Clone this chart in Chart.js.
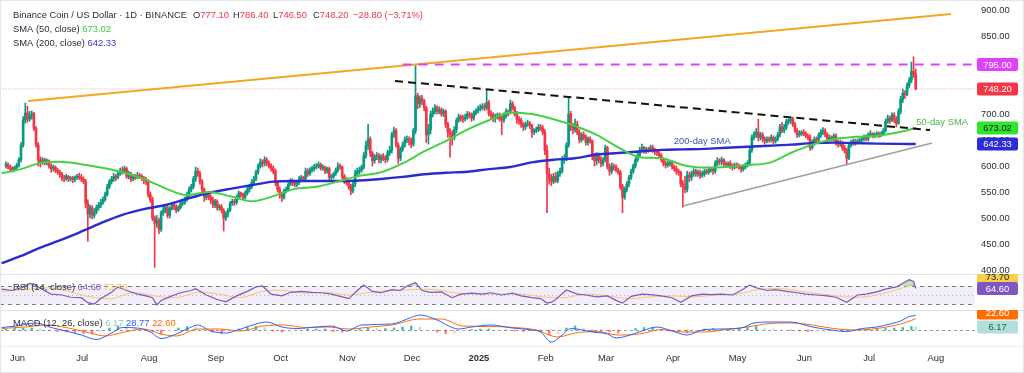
<!DOCTYPE html>
<html>
<head>
<meta charset="utf-8">
<title>Binance Coin / US Dollar · 1D · BINANCE</title>
<script src="https://cdn.jsdelivr.net/npm/chart.js@4.4.1/dist/chart.umd.min.js"></script>
<style>
  html, body { margin:0; padding:0; background:#ffffff; }
  #wrap { position:relative; width:1024px; height:373px; overflow:hidden; background:#ffffff; }
  #wrap canvas { position:absolute; left:0; }
  #frame { position:absolute; left:0; top:0; width:1024px; height:373px; box-sizing:border-box; border:1px solid #e4e6eb; pointer-events:none; }
</style>
</head>
<body>
<div id="wrap">
  <canvas id="mainChart" style="top:0;width:1024px;height:274px" width="1024" height="274"></canvas>
  <canvas id="rsiChart" style="top:274px;width:1024px;height:36px" width="1024" height="36"></canvas>
  <canvas id="macdChart" style="top:310px;width:1024px;height:63px" width="1024" height="63"></canvas>
  <div id="frame"></div>
</div>
<script>
// ================= DATA (day 0 = 1 Jun 2024, daily candles) =================
const firstDay = -4;      // first candle: 28 May 2024
const firstOpen = 600;    // open of the first candle (later opens = prior close, 24/7 market)

const closes = [
  603,598,595,593,
  597,601,612,640,688,702,690,697,700,672,640,612,608,612,606,610,600,595,598,592,588,584,578,576,580,575,577,574,578,580,
  578,575,570,528,508,520,505,512,520,525,530,535,545,560,570,575,580,578,585,590,588,595,580,585,575,580,578,582,580,577,572,
  570,545,535,500,490,495,478,510,515,520,505,518,525,522,515,520,528,530,535,545,555,560,575,590,585,570,555,540,545,540,535,
  525,532,520,522,515,500,508,515,528,532,530,540,548,545,540,548,555,560,568,575,588,600,608,605,612,606,600,596,590,568,
  555,545,540,552,555,565,570,568,565,568,575,578,575,590,585,592,595,598,600,603,596,598,590,595,578,580,585,592,600,598,580,
  572,568,560,552,565,585,590,592,598,620,640,652,625,610,618,620,612,618,615,612,625,630,660,668,640,615,632,640,650,652,
  648,642,668,735,720,730,725,712,660,670,700,705,712,705,708,700,705,680,665,660,655,670,688,695,692,690,694,700,698,692,702,
  706,710,712,715,712,722,700,698,692,695,698,690,688,697,705,702,720,712,700,690,688,680,675,680,682,678,665,668,670,675,672,
  665,630,585,575,570,580,572,585,590,612,615,640,700,675,670,680,665,650,660,655,645,652,648,618,610,620,612,605,
  612,635,598,590,600,598,592,588,560,540,555,565,578,590,600,612,620,630,635,628,632,630,636,630,628,625,620,612,605,602,605,
  605,598,595,590,588,565,560,555,582,578,585,590,585,588,582,585,590,588,592,594,590,605,610,608,612,605,602,605,600,598,
  602,600,598,594,598,602,605,630,655,660,665,655,660,652,648,652,650,655,648,652,660,675,668,675,685,688,690,680,668,660,662,
  665,662,658,655,635,645,652,650,660,665,668,660,652,655,652,658,645,642,645,635,630,615,640,645,648,645,648,650,652,656,
  652,660,662,658,660,662,660,662,668,685,692,688,698,690,682,705,728,740,738,755,765,782,777.1,748.2
];
const highs = [
  608,606,602,599,
  600,605,616,645,695,721,715,705,706,703,676,645,618,616,615,614,612,604,602,600,595,592,588,582,584,582,580,580,581,584,
  586,584,579,574,535,525,524,518,525,530,536,540,550,565,574,580,586,584,590,596,598,600,598,590,588,584,584,588,586,584,580,
  578,574,550,540,504,505,500,514,522,526,524,522,530,530,526,524,532,535,540,550,560,565,580,598,596,590,574,558,550,550,545,
  540,536,535,526,526,518,512,518,532,536,536,544,552,550,548,552,560,565,574,580,592,604,614,612,618,616,610,604,600,594,
  572,560,550,556,560,568,576,575,572,572,580,582,580,596,595,597,600,603,605,608,606,602,600,598,598,584,588,596,606,604,600,
  584,578,572,565,570,592,596,598,602,626,648,680,656,628,622,626,624,622,624,620,630,638,665,675,672,645,636,646,656,658,
  656,654,672,794,740,735,736,728,715,680,706,712,718,716,714,712,710,708,684,672,668,676,692,700,698,698,700,705,704,702,706,
  710,715,718,720,720,746,726,706,702,700,702,702,696,702,710,708,727,724,715,705,695,692,684,685,688,686,680,672,675,680,680,
  678,670,640,596,584,586,588,590,596,618,622,645,733,705,682,690,686,670,664,666,660,656,656,650,624,626,625,618,
  616,640,638,604,606,604,602,596,592,565,560,570,582,594,604,616,625,636,642,638,636,636,640,640,634,632,628,624,616,610,610,
  610,610,602,600,594,590,572,580,590,588,590,595,594,592,592,590,594,594,596,598,598,610,616,614,617,614,608,608,610,604,
  606,606,604,600,602,606,610,636,660,666,672,690,665,664,656,656,656,660,658,656,665,680,684,680,690,694,694,694,684,672,668,
  668,670,666,662,660,650,656,656,664,670,674,672,664,660,658,662,662,650,650,648,640,634,645,650,652,652,652,654,656,660,
  660,664,668,664,664,666,665,666,672,690,698,696,702,702,695,710,734,748,745,760,770,800,810,786.4
];
const lows = [
  596,594,590,588,
  590,594,598,608,636,682,684,686,690,668,636,600,598,603,602,602,596,588,590,587,584,578,572,570,572,570,571,568,570,574,
  574,570,566,520,455,500,498,500,508,515,520,526,532,542,556,565,570,572,575,582,584,586,576,575,570,572,574,575,576,572,566,
  564,540,530,495,405,482,470,474,505,510,500,500,515,516,510,512,517,524,526,532,540,550,556,570,580,565,550,532,535,535,528,
  520,520,515,515,510,475,495,502,512,524,524,526,536,540,535,536,544,550,556,565,572,584,596,598,600,600,596,590,585,562,
  550,538,532,536,548,552,562,562,560,560,564,572,570,572,580,582,588,590,594,596,592,592,585,586,572,574,576,582,588,594,575,
  566,564,555,545,548,560,580,584,588,594,615,632,618,600,605,612,606,606,610,606,608,620,625,655,636,605,610,628,636,645,
  640,635,638,662,710,712,718,706,645,642,662,694,700,700,700,696,695,674,655,617,640,650,664,684,686,684,686,690,692,686,688,
  698,702,706,708,706,708,696,690,685,684,690,686,660,684,692,696,700,708,696,682,680,674,668,670,676,672,655,660,664,666,668,
  660,622,510,565,562,566,568,568,580,586,605,610,636,668,662,665,660,644,646,650,640,640,644,612,600,602,606,598,
  600,608,594,582,585,592,588,584,555,510,536,550,560,574,586,596,608,616,626,624,624,626,628,626,622,620,615,608,600,596,598,
  600,594,590,584,582,560,521,548,550,570,572,580,580,580,576,578,580,584,584,588,584,586,600,602,602,600,598,598,595,592,
  594,596,594,588,590,594,598,602,626,650,655,648,650,646,642,645,646,646,642,644,648,656,664,664,670,680,682,676,664,655,656,
  658,658,654,650,630,632,640,645,646,655,660,656,645,648,648,648,640,636,638,630,625,602,612,636,640,640,642,644,646,648,
  648,648,656,654,654,656,655,656,660,665,682,682,685,684,675,680,700,722,730,735,750,760,770,746.5
];

// Moving averages
const smaDays = [-6,3,12,21,30,40,50,60,70,80, 90,100,110,120,130,140,150,160,170,180, 190,200,210,220,230,240,250,260,270,280, 290,300,310,320,330,340,350,360,370,380, 390,400,410,418];
const sma50 = [586,594,606,608,604,597,588,575,557,544, 550,542,532,542,556,560,570,581,588,605, 628,648,670,688,703,700,690,677,660,636, 617,615,602,597,598,602,606,625,641,652, 656,658,665,673.02];
const sma200 = [413,427,443,457,472,490,506,517,525,537, 548,556,563,570,571,571,571,572,575,579, 584,587,589,594,598,607,612,615,622,625, 628,631,632,633,635,637,639,641,644,645, 644,643,642.5,642.33];

// RSI (14) and its moving average
const rsiDays = [-6,-1,3,7,9,13,17,22,26,31, 34,37,40,45,48,52,57,61,64,66, 68,73,77,82,84,89,94,98,103,108, 112,115,119,124,128,133,138,142,147,152, 155,159,162,166,170,175,179,182,186,189, 193,198,203,207,212,217,221,226,231,235, 240,244,247,249,251,256,261,265,270,275, 279,282,286,291,295,300,305,309,314,319, 323,328,333,337,341,344,349,353,358,363, 367,372,377,381,386,391,395,400,404,409, 412,415,417,418];
const rsiVals = [63,60,66,76,74,62,52,50,45,44, 33,30,42,56,68,60,52,48,44,28, 38,48,55,60,64,50,40,35,48,58, 68,70,52,48,56,58,56,55,52,46, 42,60,72,58,55,62,60,70,78,60, 56,57,44,52,54,52,55,50,54,48, 44,42,32,34,40,61,52,50,46,48, 38,32,47,52,51,48,44,34,48,52, 51,52,50,60,72,66,60,62,58,55, 52,50,48,45,34,50,52,57,63,68, 76,84,80,64.6];
const rsiMaDays = [-6,5,15,25,35,45,55,65,75,85, 95,105,115,125,135,145,155,165,175,185, 195,205,215,225,235,245,255,265,275,285, 295,305,315,325,335,345,355,365,375,385, 395,405,412,418];
const rsiMaVals = [58,62,66,58,46,42,55,48,44,56, 52,44,58,60,54,56,50,56,60,62, 62,54,52,52,52,46,44,52,48,42, 46,48,46,50,52,62,64,58,52,46, 46,56,66,73.7];

// MACD (12, 26, close)
const macdDays = [-6,1,10,17,24,31,38,45,50,57, 63,68,74,80,85,91,98,105,112,117, 124,131,140,147,154,161,175,184,188,196, 203,206,212,221,231,240,244,249,254,258, 268,275,279,284,291,298,305,312,319,328, 337,343,351,360,370,379,386,393,400,407, 411,415,418];
const macdVals = [5,8,14,5,-2,-10,-19,-6,5,4, -4,-17,-10,2,10,-2,-6,2,12,16, 6,3,6,8,-2,10,12,25,30,20, 5,2,6,10,4,0,-4,-24,-10,3, -4,-8,-16,-12,-2,6,-2,-10,0,2, 4,14,16,16,6,0,-3,3,6,13, 18,27,28.77];
const signalDays = [-6,5,15,25,35,42,50,60,68,75, 85,95,105,115,125,135,145,155,165,175, 188,198,208,220,232,242,252,260,270,280, 290,300,310,320,330,340,350,360,370,380, 390,400,408,414,418];
const signalVals = [3,6,10,4,-6,-12,-5,2,-8,-12, 2,2,-2,8,10,5,6,2,6,10, 22,22,8,7,5,0,-14,-6,-3,-10, -8,1,-4,-4,1,6,13,14,10,3, 0,3,9,16,22.6];
const histDays = [-4,0,4,8,12,16,20,24,28,32, 36,40,44,48,52,56,60,64,68,72, 76,80,84,88,92,96,100,104,108,112, 116,120,124,128,132,136,140,144,148,152, 156,160,164,168,172,176,180,184,188,192, 196,200,204,208,212,216,220,224,228,232, 236,240,244,248,252,256,260,264,268,272, 276,280,284,288,292,296,300,304,308,312, 316,320,324,328,332,336,340,344,348,352, 356,360,364,368,372,376,380,384,388,392, 396,400,404,408,412,416,418];
const histVals = [2,3,4,4,2,-1,-3,-4,-5,-7, -8,-4,4,8,6,3,0,-4,-8,-2, 4,7,6,2,-4,-7,-4,2,6,7, 5,-2,-4,-4,-1,2,2,2,-3,-4, -1,3,4,3,3,4,6,8,6,0, -4,-7,-6,-3,1,2,2,0,-1,-2, -3,-3,-4,-10,-8,4,8,3,-2,-3, -4,-6,-2,3,5,5,2,-2,-4,-6, -1,2,3,2,2,3,6,7,4,2, 0,-1,-2,-3,-3,-3,-2,-3,-2,1, 2,3,3,4,5,7,6.17];

// Drawn lines (anchor points as [day, price])
const resistanceLine = [[6.3, 725], [434.4, 892.3]];
const fallingTrend   = [[176.5, 763.5], [424.6, 669]];
const risingSupport  = [[310, 523], [425.6, 644.2]];
const levelLine      = [[180, 795], [446, 795]];
const lastPriceLine  = [[-7, 748.2], [446, 748.2]];

// Axis labels
const monthTickDays   = [0,30,61,92,122,153,183,214,245,273,304,334,365,395,426];
const monthTickLabels = ['Jun','Jul','Aug','Sep','Oct','Nov','Dec','2025','Feb','Mar','Apr','May','Jun','Jul','Aug'];
const priceTicks = [400,450,500,550,600,650,700,750,800,850,900];

// ================= CHECKS =================
function checkLen(name, a, b) { if (a.length !== b.length) throw new Error(name + ' length mismatch ' + a.length + ' vs ' + b.length); }
checkLen('highs', highs, closes); checkLen('lows', lows, closes);
checkLen('sma50', sma50, smaDays); checkLen('sma200', sma200, smaDays);
checkLen('rsi', rsiVals, rsiDays); checkLen('rsiMa', rsiMaVals, rsiMaDays);
checkLen('macd', macdVals, macdDays); checkLen('signal', signalVals, signalDays); checkLen('hist', histVals, histDays);
if (closes.length !== 423) throw new Error('closes length ' + closes.length);

// ================= SETUP =================
const FONT = '"Liberation Sans", Arial, sans-serif';
const FS = 9.4;
const TXT = '#2a2e39';
const X_MIN = -6.73, X_MAX = 445.5;
const UP = '#089981', DOWN = '#f23645';
Chart.defaults.font.family = FONT;

const days = closes.map((_, i) => firstDay + i);
const opens = closes.map((c, i) => i === 0 ? firstOpen : closes[i - 1]);
const candleColors = closes.map((c, i) => c >= opens[i] ? UP : DOWN);
const pts = (xs, ys) => xs.map((d, i) => ({ x: d, y: ys[i] }));
const seg2 = (p) => p.map(([d, v]) => ({ x: d, y: v }));

const xScale = { type: 'linear', min: X_MIN, max: X_MAX, display: false, offset: false };
const common = {
  responsive: false, animation: false, devicePixelRatio: 1, events: [],
  plugins: { legend: { display: false }, tooltip: { enabled: false } }
};

function drawParts(ctx, x, y, parts) {
  for (const [t, c] of parts) { ctx.fillStyle = c; ctx.fillText(t, x, y); x += ctx.measureText(t).width; }
}
function tag(ctx, yc, text, bg, fg) {
  ctx.save();
  ctx.font = FS + 'px ' + FONT;
  const x0 = 977, w = 41, h = 13;
  ctx.fillStyle = bg;
  ctx.beginPath();
  if (ctx.roundRect) ctx.roundRect(x0, yc - h / 2, w, h, 2); else ctx.rect(x0, yc - h / 2, w, h);
  ctx.fill();
  ctx.fillStyle = fg; ctx.textAlign = 'center'; ctx.textBaseline = 'middle';
  ctx.fillText(text, x0 + w / 2, yc + 0.5);
  ctx.restore();
}
function hline(ctx, y, x1, x2, color) {
  ctx.save(); ctx.strokeStyle = color; ctx.lineWidth = 1; ctx.setLineDash([]);
  ctx.beginPath(); ctx.moveTo(x1, y); ctx.lineTo(x2, y); ctx.stroke(); ctx.restore();
}

// ================= MAIN PRICE CHART =================
const mainOverlay = {
  id: 'mainOverlay',
  afterDraw(chart) {
    const { ctx, chartArea: a, scales: { x, y } } = chart;
    ctx.save();
    ctx.font = FS + 'px ' + FONT; ctx.textBaseline = 'middle'; ctx.textAlign = 'left';
    // price axis labels
    ctx.fillStyle = TXT;
    priceTicks.forEach(v => ctx.fillText(v.toFixed(2), a.right + 6, y.getPixelForValue(v)));
    // header legend
    drawParts(ctx, 13, 15.5, [['Binance Coin / US Dollar · 1D · BINANCE', TXT]]);
    drawParts(ctx, 193, 15.5, [['O', TXT], ['777.10', DOWN]]);
    drawParts(ctx, 233, 15.5, [['H', TXT], ['786.40', DOWN]]);
    drawParts(ctx, 273, 15.5, [['L', TXT], ['746.50', DOWN]]);
    drawParts(ctx, 313, 15.5, [['C', TXT], ['748.20', DOWN]]);
    drawParts(ctx, 353, 15.5, [['−28.80 (−3.71%)', DOWN]]);
    drawParts(ctx, 13, 29.5, [['SMA (50, close)', TXT], [' 673.02', '#43c443']]);
    drawParts(ctx, 13, 43.5, [['SMA (200, close)', TXT], [' 642.33', '#3a3ad6']]);
    ctx.fillStyle = '#4caf50';
    ctx.fillText('50-day SMA', x.getPixelForValue(418.3), y.getPixelForValue(683));
    ctx.textAlign = 'center'; ctx.fillStyle = '#3f51b5';
    ctx.fillText('200-day SMA', x.getPixelForValue(319), y.getPixelForValue(648));
    ctx.restore();
    tag(ctx, y.getPixelForValue(levelLine[0][1]), levelLine[0][1].toFixed(2), '#e040fb', '#ffffff');
    tag(ctx, y.getPixelForValue(closes[closes.length - 1]), closes[closes.length - 1].toFixed(2), '#f23645', '#ffffff');
    tag(ctx, y.getPixelForValue(sma50[sma50.length - 1]), sma50[sma50.length - 1].toFixed(2), '#2ee62e', '#131722');
    tag(ctx, y.getPixelForValue(sma200[sma200.length - 1]), sma200[sma200.length - 1].toFixed(2), '#2b2bd9', '#ffffff');
  }
};

new Chart(document.getElementById('mainChart'), {
  type: 'bar',
  data: {
    datasets: [
      { type: 'bar', label: 'wicks', data: days.map((d, i) => ({ x: d, y: [lows[i], highs[i]] })),
        backgroundColor: candleColors, barThickness: 1, grouped: false, order: 10 },
      { type: 'bar', label: 'bodies', data: days.map((d, i) => ({ x: d, y: [opens[i], closes[i]] })),
        backgroundColor: candleColors, barThickness: 2, minBarLength: 1, grouped: false, order: 9 },
      { type: 'line', label: 'SMA 200', data: pts(smaDays, sma200), borderColor: '#2b2bd0', borderWidth: 2.4,
        pointRadius: 0, tension: 0.4, cubicInterpolationMode: 'monotone', fill: false, order: 5 },
      { type: 'line', label: 'SMA 50', data: pts(smaDays, sma50), borderColor: '#45d045', borderWidth: 2,
        pointRadius: 0, tension: 0.4, cubicInterpolationMode: 'monotone', fill: false, order: 4 },
      { type: 'line', label: 'last', data: seg2(lastPriceLine), borderColor: 'rgba(242,54,69,0.55)', borderWidth: 1,
        borderDash: [1, 2], pointRadius: 0, fill: false, order: 3 },
      { type: 'line', label: 'resistance', data: seg2(resistanceLine), borderColor: '#f5a623', borderWidth: 2,
        pointRadius: 0, fill: false, order: 2 },
      { type: 'line', label: 'falling', data: seg2(fallingTrend), borderColor: '#111111', borderWidth: 2,
        borderDash: [8, 5], pointRadius: 0, fill: false, order: 2 },
      { type: 'line', label: 'support', data: seg2(risingSupport), borderColor: '#a0a0a0', borderWidth: 1.6,
        pointRadius: 0, fill: false, order: 2 },
      { type: 'line', label: 'level', data: seg2(levelLine), borderColor: '#e040fb', borderWidth: 2,
        borderDash: [9, 7], pointRadius: 0, fill: false, order: 1 }
    ]
  },
  options: Object.assign({}, common, {
    layout: { padding: { left: 0, top: 0, bottom: 0, right: 49 } },
    scales: {
      x: xScale,
      y: { display: false, min: 392.3, max: 919.2 }
    }
  }),
  plugins: [mainOverlay]
});

// ================= RSI =================
const rsiOverlay = {
  id: 'rsiOverlay',
  beforeDatasetsDraw(chart) {
    const { ctx, chartArea: a, scales: { y } } = chart;
    const y70 = Math.round(y.getPixelForValue(70)) + 0.5, y30 = Math.round(y.getPixelForValue(30)) + 0.5, y50 = Math.round(y.getPixelForValue(50)) + 0.5;
    ctx.save();
    ctx.fillStyle = 'rgba(126,87,194,0.10)';
    ctx.fillRect(a.left, y70, a.right - a.left, y30 - y70);
    ctx.strokeStyle = '#787b86'; ctx.lineWidth = 1; ctx.setLineDash([4, 4]);
    for (const yy of [y70, y30]) { ctx.beginPath(); ctx.moveTo(a.left, yy); ctx.lineTo(a.right, yy); ctx.stroke(); }
    ctx.strokeStyle = 'rgba(120,123,134,0.45)'; ctx.setLineDash([1, 3]);
    ctx.beginPath(); ctx.moveTo(a.left, y50); ctx.lineTo(a.right, y50); ctx.stroke();
    ctx.restore();
  },
  afterDraw(chart) {
    const { ctx, scales: { y } } = chart;
    hline(ctx, 0.5, 0, 1024, '#e0e3eb');
    ctx.save();
    ctx.font = FS + 'px ' + FONT; ctx.textBaseline = 'middle'; ctx.textAlign = 'left';
    drawParts(ctx, 13, 13, [['RSI (14, close)', TXT], [' 64.60', '#7e57c2'], [' 73.70', '#f0c040']]);
    ctx.restore();
    tag(ctx, 3, rsiMaVals[rsiMaVals.length - 1].toFixed(2), '#f7cf4a', '#131722');
    tag(ctx, y.getPixelForValue(rsiVals[rsiVals.length - 1]), rsiVals[rsiVals.length - 1].toFixed(2), '#7e57c2', '#ffffff');
  }
};

new Chart(document.getElementById('rsiChart'), {
  type: 'line',
  data: {
    datasets: [
      { label: 'RSI MA', data: pts(rsiMaDays, rsiMaVals), borderColor: '#f3c96b', borderWidth: 1,
        pointRadius: 0, tension: 0.35, fill: false, order: 2 },
      { label: 'RSI', data: pts(rsiDays, rsiVals), borderColor: '#7e57c2', borderWidth: 1.2,
        pointRadius: 0, tension: 0, order: 1,
        fill: { target: { value: 70 }, above: 'rgba(76,175,80,0.35)', below: 'rgba(0,0,0,0)' } }
    ]
  },
  options: Object.assign({}, common, {
    layout: { padding: { right: 49, left: 0, top: 0, bottom: 0 } },
    scales: { x: xScale, y: { display: false, min: 16.67, max: 96.67 } }
  }),
  plugins: [rsiOverlay]
});

// ================= MACD =================
const histColors = histVals.map((v, i) => {
  const p = i ? histVals[i - 1] : v;
  if (v >= 0) return v >= p ? 'rgba(38,166,154,0.8)' : 'rgba(178,223,219,0.95)';
  return v < p ? 'rgba(255,82,82,0.75)' : 'rgba(255,205,210,0.95)';
});

const macdOverlay = {
  id: 'macdOverlay',
  beforeDatasetsDraw(chart) {
    const { ctx, chartArea: a, scales: { y } } = chart;
    const y0 = Math.round(y.getPixelForValue(0)) + 0.5;
    ctx.save(); ctx.strokeStyle = '#9598a1'; ctx.lineWidth = 1; ctx.setLineDash([3, 3]);
    ctx.beginPath(); ctx.moveTo(a.left, y0); ctx.lineTo(a.right + 6, y0); ctx.stroke(); ctx.restore();
  },
  afterDraw(chart) {
    const { ctx, chartArea: a, scales: { x, y } } = chart;
    hline(ctx, 0.5, 0, 1024, '#e0e3eb');
    hline(ctx, a.bottom + 0.5, 0, 1024, '#eceef2');
    ctx.save();
    ctx.font = FS + 'px ' + FONT; ctx.textBaseline = 'middle'; ctx.textAlign = 'left';
    drawParts(ctx, 13, 13, [['MACD (12, 26, close)', TXT], [' 6.17', '#7fcfc6'], [' 28.77', '#2962ff'], [' 22.60', '#ff6d00']]);
    ctx.textAlign = 'center'; ctx.fillStyle = TXT;
    monthTickDays.forEach((d, i) => {
      const lbl = monthTickLabels[i];
      ctx.font = (lbl === '2025' ? 'bold ' : '') + FS + 'px ' + FONT;
      ctx.fillText(lbl, x.getPixelForValue(d) + 3, 48);
    });
    ctx.restore();
    tag(ctx, 3, signalVals[signalVals.length - 1].toFixed(2), '#ff6d00', '#ffffff');
    tag(ctx, 17, histVals[histVals.length - 1].toFixed(2), '#b2dfdb', '#1b5e58');
  }
};

new Chart(document.getElementById('macdChart'), {
  type: 'bar',
  data: {
    datasets: [
      { type: 'bar', label: 'Histogram', data: pts(histDays, histVals), backgroundColor: histColors,
        barThickness: 1.8, grouped: false, order: 3 },
      { type: 'line', label: 'Signal', data: pts(signalDays, signalVals), borderColor: '#ff6d00', borderWidth: 1,
        pointRadius: 0, tension: 0.4, cubicInterpolationMode: 'monotone', fill: false, order: 2 },
      { type: 'line', label: 'MACD', data: pts(macdDays, macdVals), borderColor: '#2962ff', borderWidth: 1,
        pointRadius: 0, tension: 0.4, cubicInterpolationMode: 'monotone', fill: false, order: 1 }
    ]
  },
  options: Object.assign({}, common, {
    layout: { padding: { right: 49, left: 0, top: 0, bottom: 27 } },
    scales: { x: xScale, y: { display: false, min: -32, max: 40 } }
  }),
  plugins: [macdOverlay]
});
</script>
</body>
</html>
